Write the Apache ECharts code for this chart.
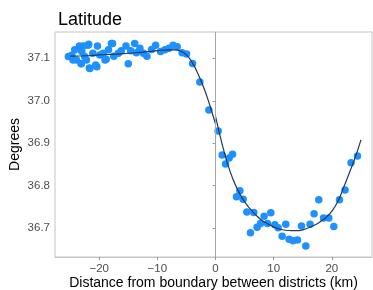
<!DOCTYPE html>
<html>
<head>
<meta charset="utf-8">
<script src="https://cdn.jsdelivr.net/npm/echarts@6/dist/echarts.min.js"></script>
<style>
  html, body { margin: 0; padding: 0; background: #fff; }
  #latitude_chart { width: 373px; height: 290px; }
</style>
</head>
<body>
<div id="latitude_chart"></div>
<script>
  // observations: distance (km) and latitude (degrees)
  var pointX = [-25.3, -24.7, -24.5, -24.2, -23.9, -23.4, -23.3, -23.1, -23.1, -23.0, -22.7, -22.5,
    -22.2, -21.9, -21.8, -21.7, -21.6, -21.1, -20.6, -20.4, -20.3, -19.9, -19.3, -19.0, -18.8,
    -18.4, -17.9, -17.7, -17.5, -16.7, -16.2, -15.4, -15.0, -14.6, -13.9, -13.6, -13.0, -12.4,
    -11.8, -11.0, -10.3, -9.45, -8.7, -8.0, -7.3, -6.6, -5.74, -4.98, -3.95, -2.7, -1.15,
    0.45, 1.14, 1.72, 2.34, 2.92, 3.6, 4.18, 4.74, 5.38, 6.01, 6.58, 7.15, 7.73, 8.35, 8.93,
    9.5, 10.19, 10.76, 11.45, 12.08, 12.65, 13.33, 14.09, 14.78, 15.52, 16.25, 16.94, 17.75,
    18.56, 19.47, 20.33, 21.31, 22.27, 23.3, 24.4];
  var pointY = [37.104, 37.107, 37.096, 37.12, 37.096, 37.129, 37.127, 37.087, 37.088, 37.116, 37.129, 37.104,
    37.096, 37.131, 37.133, 37.077, 37.076, 37.112, 37.084, 37.08, 37.129, 37.108, 37.112, 37.096, 37.098,
    37.12, 37.135, 37.135, 37.105, 37.112, 37.118, 37.129, 37.087, 37.118, 37.135, 37.113, 37.124, 37.112,
    37.105, 37.121, 37.131, 37.116, 37.12, 37.124, 37.131, 37.127, 37.113, 37.11, 37.088, 37.044, 36.978,
    36.929, 36.872, 36.851, 36.865, 36.874, 36.774, 36.788, 36.768, 36.738, 36.689, 36.737, 36.702, 36.711, 36.728, 36.711,
    36.736, 36.708, 36.701, 36.681, 36.709, 36.674, 36.670, 36.672, 36.705, 36.658, 36.709, 36.734, 36.767,
    36.724, 36.724, 36.704, 36.767, 36.790, 36.854, 36.870];

  // fitted curve on each side of the boundary
  var fitLeftX = [-25, -22, -20, -17, -15, -12, -10, -8, -7, -6, -5, -4, -3, -2, -1, 0];
  var fitLeftY = [37.105, 37.106, 37.108, 37.11, 37.112, 37.115, 37.118, 37.12, 37.12, 37.117, 37.108, 37.09, 37.063, 37.03, 36.99, 36.945];
  var fitRightX = [0, 1, 2, 3, 4, 5, 6, 7, 8, 9, 10, 11, 12, 13, 14, 15, 16, 17, 18, 19, 20, 21, 22, 23, 24, 25];
  var fitRightY = [36.963, 36.905, 36.855, 36.815, 36.785, 36.762, 36.745, 36.73, 36.718, 36.71, 36.703, 36.698, 36.695,
    36.694, 36.694, 36.696, 36.701, 36.707, 36.715, 36.725, 36.74, 36.762, 36.795, 36.83, 36.866, 36.908];

  var xTicks = [-20, -10, 0, 10, 20];
  var yTicks = [36.7, 36.8, 36.9, 37.0, 37.1];

  var chart = echarts.init(document.getElementById('latitude_chart'));

  function pairs(xs, ys) {
    return xs.map(function (x, i) { return [x, ys[i]]; });
  }

  var option = {
    animation: false,
    textStyle: { fontFamily: 'Liberation Sans, Arial, sans-serif' },
    title: {
      text: 'Latitude',
      left: 53,
      top: 6,
      textStyle: { fontSize: 18, fontWeight: 'normal', color: '#000' }
    },
    grid: {
      left: 55,
      right: 1,
      top: 32,
      bottom: 33,
      outerBoundsMode: 'none',
      containLabel: false,
      show: true,
      borderColor: '#c4c4c4',
      borderWidth: 1
    },
    xAxis: {
      type: 'value',
      min: -27.6,
      max: 26.9,
      name: 'Distance from boundary between districts (km)',
      nameLocation: 'middle',
      nameGap: 19,
      nameMoveOverlap: false,
      nameTextStyle: { fontSize: 14, color: '#000' },
      axisLine: { show: true, lineStyle: { color: '#c4c4c4' } },
      axisTick: { show: true, length: 3, customValues: xTicks, lineStyle: { color: '#999' } },
      axisLabel: {
        customValues: xTicks,
        fontSize: 11.5,
        color: '#4d4d4d',
        margin: 6,
        formatter: function (v) { return String(v).replace('-', '\u2212'); }
      },
      splitLine: { show: false }
    },
    yAxis: {
      type: 'value',
      min: 36.632,
      max: 37.162,
      name: 'Degrees',
      nameLocation: 'middle',
      nameGap: 33,
      nameMoveOverlap: false,
      nameTextStyle: { fontSize: 14, color: '#000' },
      axisLine: { show: true, lineStyle: { color: '#c4c4c4' } },
      axisTick: { show: true, length: 3, customValues: yTicks, lineStyle: { color: '#999' } },
      axisLabel: {
        customValues: yTicks,
        fontSize: 11.5,
        color: '#4d4d4d',
        margin: 5,
        formatter: function (v) { return v.toFixed(1); }
      },
      splitLine: { show: false }
    },
    series: [
      {
        type: 'scatter',
        data: pairs(pointX, pointY),
        symbolSize: 7.5,
        itemStyle: { color: '#1E90FF', opacity: 1 },
        z: 2,
        markLine: {
          silent: true,
          symbol: 'none',
          label: { show: false },
          lineStyle: { color: '#a6a6a6', width: 1, type: 'solid' },
          data: [{ xAxis: 0 }]
        }
      },
      {
        type: 'line',
        data: pairs(fitLeftX, fitLeftY),
        smooth: true,
        showSymbol: false,
        lineStyle: { color: '#1f3a5a', width: 1.2 },
        z: 3
      },
      {
        type: 'line',
        data: pairs(fitRightX, fitRightY),
        smooth: true,
        showSymbol: false,
        lineStyle: { color: '#1f3a5a', width: 1.2 },
        z: 3
      }
    ]
  };
  chart.setOption(option);
</script>
</body>
</html>
